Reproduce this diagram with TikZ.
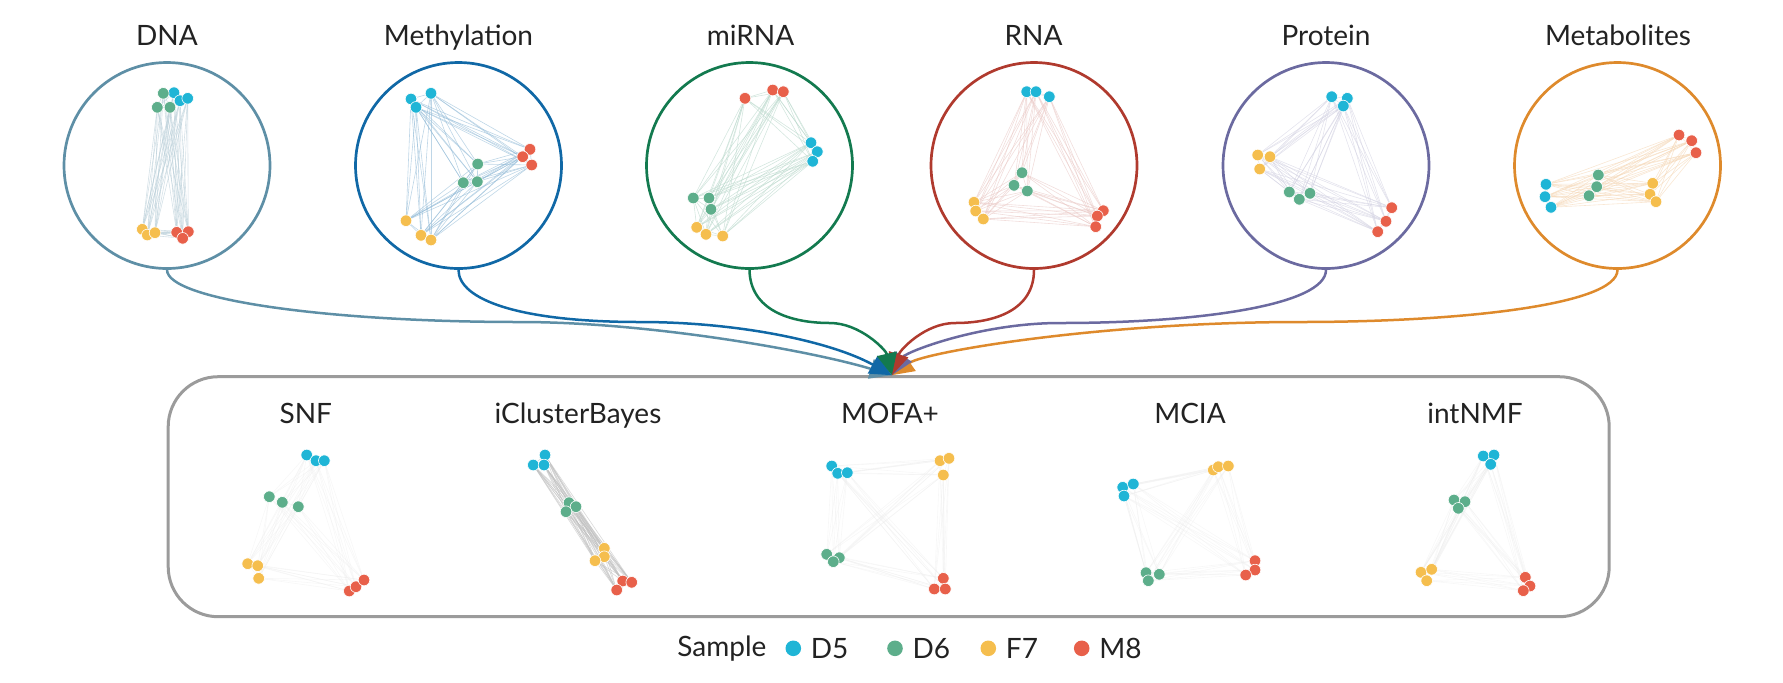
\documentclass[tikz,border=0pt]{standalone}
\usepackage{fontspec}
\setmainfont{Lato}
\usepackage{tikz}
\usetikzlibrary{positioning,arrows.meta}

\definecolor{sample0}{HTML}{1FB5D6}
\definecolor{sample1}{HTML}{5DAE8B}
\definecolor{sample2}{HTML}{F5BE4E}
\definecolor{sample3}{HTML}{E8604A}
\definecolor{dnacol}{HTML}{5E8FA6}
\definecolor{methcol}{HTML}{1068A6}
\definecolor{mirnacol}{HTML}{137A4F}
\definecolor{rnacol}{HTML}{B03A2E}
\definecolor{protcol}{HTML}{6B6AA0}
\definecolor{metabcol}{HTML}{DE8A2C}
\definecolor{boxgrey}{HTML}{9B9B9B}
\definecolor{txt}{HTML}{222222}

% 12 samples, three per group: D5, D6, F7, M8
\newcommand{\samplenet}[3]{%
  \foreach \x/\y [count=\n] in {#3} {\coordinate (#1\n) at (\x,\y);}
  \foreach \i in {1,...,11} {
    \foreach \j in {\i,...,12} {\draw[#2] (#1\i) -- (#1\j);}
  }
  \foreach \n in {1,...,12} {
    \pgfmathtruncatemacro{\g}{(\n-1)/3}
    \fill[sample\g, draw=white, line width=0.3pt] (#1\n) circle (2.9pt);
  }
}

\begin{document}
\begin{tikzpicture}[x=0.5pt,y=-0.5pt]
\tikzstyle{every node}+=[inner sep=0pt, text=txt, font=\fontsize{14pt}{16pt}\selectfont]
\tikzstyle{omic}=[draw, circle, minimum size=103pt, line width=1.35pt]
\tikzstyle{title}=[anchor=base]
\tikzstyle{link}=[line width=1.25pt, -{Triangle[length=11pt,width=10pt]}]
\tikzstyle{key}=[circle, minimum size=7.8pt]
\tikzstyle{dnaedge}=[dnacol!45, line width=0.3pt, opacity=0.6]
\tikzstyle{methedge}=[methcol!45, line width=0.3pt, opacity=0.6]
\tikzstyle{mirnaedge}=[mirnacol!30, line width=0.3pt, opacity=0.6]
\tikzstyle{rnaedge}=[rnacol!28, line width=0.3pt, opacity=0.6]
\tikzstyle{protedge}=[protcol!30, line width=0.3pt, opacity=0.6]
\tikzstyle{metabedge}=[metabcol!35, line width=0.3pt, opacity=0.6]
\tikzstyle{faintedge}=[gray!15, line width=0.3pt, opacity=0.4]
\tikzstyle{greyedge}=[gray!50, line width=0.3pt, opacity=0.6]
\useasboundingbox (0,0) rectangle (1783,682);

% omics layers
\node[omic, dnacol] (dna) at (167,165.5) {};
\node[omic, methcol] (meth) at (458.5,165.5) {};
\node[omic, mirnacol] (mirna) at (749.5,165.5) {};
\node[omic, rnacol] (rna) at (1034,165.5) {};
\node[omic, protcol] (prot) at (1326,165.5) {};
\node[omic, metabcol] (metab) at (1617.5,165.5) {};
\node[title] (dnat) at (167,45) {DNA};
\node[title] (metht) at (458.5,45) {Methylation};
\node[title] (mirnat) at (750.5,45) {miRNA};
\node[title] (rnat) at (1033.5,45) {RNA};
\node[title] (prott) at (1326,45) {Protein};
\node[title] (metabt) at (1618,45) {Metabolites};

\samplenet{dn}{dnaedge}{174/92.7, 180/100.7, 187.7/98.3, 163.3/93.3, 157.3/107.3, 170/107.3,
  142.3/229.3, 147.3/235, 155/232.7, 176.7/232.3, 188.3/231.7, 182.7/238.3}
\samplenet{me}{methedge}{411/99, 431/93.3, 416/107.3, 477.7/164, 463.3/182.7, 477.3/181.7,
  406/220.7, 421/235.3, 431/240, 530/149.3, 522.7/156.7, 531.7/165}
\samplenet{mi}{mirnaedge}{811/142.7, 817.3/151.7, 812.7/161.3, 693.3/198, 709/198, 711/209.3,
  696.7/227.3, 706/234.3, 722.7/236, 745/98.3, 772.7/90, 783.3/91.7}
\samplenet{rn}{rnaedge}{1026.7/91.7, 1036/91.7, 1049.3/96.7, 1022/172.7, 1014/185.3, 1027.3/191,
  974/202.3, 975.7/211, 983.3/219, 1103.3/210.7, 1097.3/216, 1095.7/226.7}
\samplenet{pr}{protedge}{1331.7/96.7, 1347.3/98.3, 1343.3/106, 1289.3/192, 1299.3/199.3, 1310/193.3,
  1257.7/155, 1270/156.7, 1259.7/169, 1391.7/207.7, 1386/221.3, 1377.7/231.7}
\samplenet{mt}{metabedge}{1546/184.3, 1545/196.7, 1551/207.3, 1598.3/175, 1596.7/186.7, 1589/195.7,
  1652.7/183.3, 1650/194.3, 1656/201.7, 1679/135, 1691.7/140.7, 1696/152.7}

% integration methods
\node[draw=boxgrey, rounded corners=25pt, minimum width=720.5pt, minimum height=120pt, line width=1.5pt] (methods) at (888.7,496.7) {};
\coordinate (hub) at ([xshift=1.6pt]methods.north);
\node[title] (snf) at (305.8,423) {SNF};
\node[title] (icb) at (578,423) {iClusterBayes};
\node[title] (mofa) at (890,423) {MOFA+};
\node[title] (mcia) at (1190,423) {MCIA};
\node[title] (nmf) at (1475,423) {intNMF};

\samplenet{sn}{faintedge}{306.7/455, 316/460.7, 324.3/460.7, 269.3/496.7, 282.3/502.3, 298.3/506.7,
  247.7/563.7, 257.7/565.7, 258.7/578.3, 349.3/591, 356/586.7, 364/580}
\samplenet{ic}{greyedge}{545/455, 533.3/465, 544/465, 569/502.7, 576/506.7, 566/511.7,
  604.3/548.3, 604.3/556.7, 595/560.7, 622.7/581, 631.7/582.3, 616.7/590}
\samplenet{mo}{faintedge}{831.7/466, 837.7/473.3, 847.3/472.7, 826.7/554.3, 839.3/557.7, 833.3/561.7,
  940/460.7, 949/458.3, 943.3/475, 943.3/578.3, 934.3/589, 945.3/589}
\samplenet{mc}{faintedge}{1122.7/487.3, 1133.3/484, 1124/496, 1146/572.7, 1159.3/574.3, 1148.3/580.7,
  1213.3/470, 1218.3/466.7, 1228.3/466, 1255/560.7, 1255/570, 1245.7/575}
\samplenet{nm}{faintedge}{1483.3/456, 1494/455, 1490.7/464.3, 1454/500, 1465/501.7, 1458.3/508.3,
  1421/572.3, 1431.7/569.3, 1426.7/580.7, 1525.3/577.3, 1530/586, 1523.3/590.7}

% links into the methods box
\draw[link, dnacol] (dna.south) .. controls (167,300) and (330,322) .. (520,322)
  .. controls (650,322) and (812,351) .. (hub);
\draw[link, methcol] (meth.south) .. controls (458.5,300) and (520,322) .. (640,322)
  .. controls (740,322) and (832,342) .. (hub);
\draw[link, metabcol] (metab.south) .. controls (1617.5,305) and (1460,322) .. (1300,322)
  .. controls (1100,322) and (925,352) .. (hub);
\draw[link, protcol] (prot.south) .. controls (1326,305) and (1200,323) .. (1060,323)
  .. controls (980,323) and (906,352) .. (hub);
\draw[link, rnacol] (rna.south) .. controls (1034,310) and (995,323) .. (955,323)
  .. controls (925,323) and (900,350) .. (hub);
\draw[link, mirnacol] (mirna.south) .. controls (750,310) and (790,323) .. (830,323)
  .. controls (860,323) and (886,350) .. (hub);

% legend
\node[anchor=base west] (sample) at (677,656.7) {Sample};
\node[key, fill=sample0] (k5) at (793.3,648.3) {};
\node[key, fill=sample1] (k6) at (895,648.3) {};
\node[key, fill=sample2] (k7) at (988.3,648.3) {};
\node[key, fill=sample3] (k8) at (1081.7,648.3) {};
\node[right=4.5pt of k5] (d5) {D5};
\node[right=4.5pt of k6] (d6) {D6};
\node[right=4.5pt of k7] (f7) {F7};
\node[right=4.5pt of k8] (m8) {M8};
\end{tikzpicture}
\end{document}
